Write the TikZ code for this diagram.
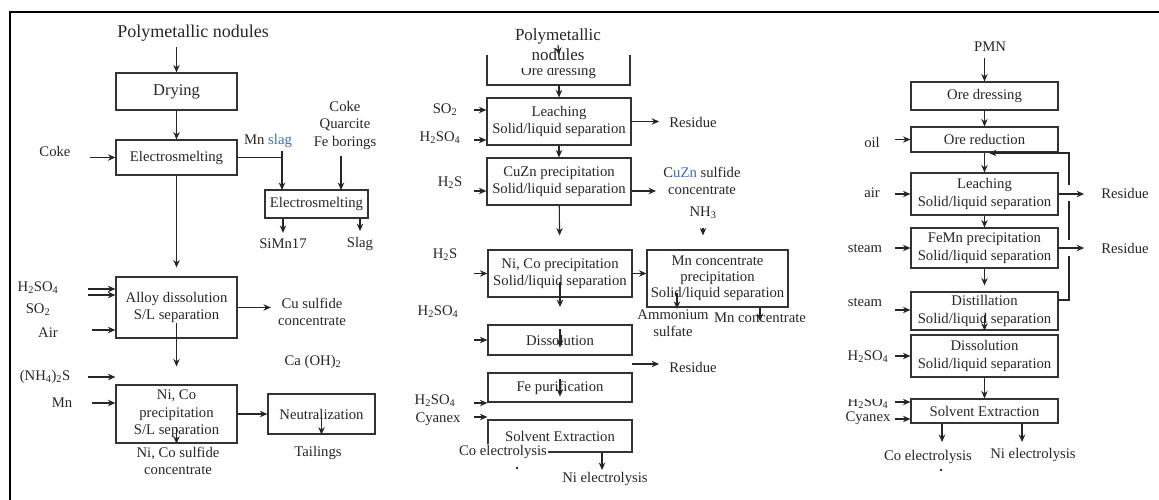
\documentclass[tikz,border=0pt]{standalone}
\usepackage{fontspec}
\setmainfont{Liberation Serif}
\usepackage{xcolor}
\usetikzlibrary{arrows.meta, positioning, calc}
\definecolor{slagblue}{RGB}{60,110,180}
\tikzset{
  lbl/.style={font=\fontsize{14.7}{17.5}\selectfont, inner sep=1pt, align=center, text=black!85},
  box/.style={draw=black!80, line width=1.2pt, font=\fontsize{14.7}{17.5}\selectfont, align=center, inner sep=1pt, text=black!85},
  flow/.style={->, line width=1.1pt, draw=black!85},
}
\begin{document}
\begin{tikzpicture}[x=1pt, y=-1pt, >={Stealth[length=7.5pt, width=6.5pt]}]
  \useasboundingbox (0,0) rectangle (1159,500);
  % Frame
  \draw[line width=1.6pt] (10,500) -- (10,12) -- (1159,12);

  % ---------- Left route: electrosmelting ----------
  \node[lbl, font=\fontsize{18}{20}\selectfont] (src1) at (193,33) {Polymetallic nodules};
  \node[box, minimum width=121pt, minimum height=37pt, font=\fontsize{16.5}{18}\selectfont] (dry) at (176.5,91.5) {Drying};
  \node[box, minimum width=121pt, minimum height=35pt] (elec1) at (176.5,157.5) {Electrosmelting};
  \node[lbl] (coke1) at (55,151) {Coke};
  \node[lbl] (mnslag) at (268,141) {Mn {\color{slagblue}slag}};
  \node[lbl] (feed) at (345,125) {Coke\\Quarcite\\Fe borings};
  \node[box, minimum width=103pt, minimum height=28pt] (elec2) at (316.5,204) {Electrosmelting};
  \node[lbl] (simn) at (283,244) {SiMn17};
  \node[lbl] (slag) at (360,244) {Slag};
  \node[box, minimum width=121pt, minimum height=61pt] (alloy) at (176.5,307.5) {Alloy dissolution\\S/L separation};
  \node[lbl] (h2so4a) at (38,288) {H\textsubscript{2}SO\textsubscript{4}};
  \node[lbl] (so2a) at (38,310) {SO\textsubscript{2}};
  \node[lbl] (aira) at (48,333) {Air};
  \node[lbl] (cuconc) at (312,312) {Cu sulfide\\concentrate};
  \node[lbl] (caoh) at (313,362) {Ca (OH)\textsubscript{2}};
  \node[lbl] (nh4s) at (45,377) {(NH\textsubscript{4})\textsubscript{2}S};
  \node[lbl] (mn1) at (62,403) {Mn};
  \node[box, minimum width=121pt, minimum height=58pt] (nico1) at (176.5,414) {Ni, Co\\precipitation\\S/L separation};
  \node[box, minimum width=107pt, minimum height=40pt] (neut) at (321.5,414) {Neutralization};
  \node[lbl] (tail) at (318,453) {Tailings};
  \node[lbl] (nicoconc) at (178,461) {Ni, Co sulfide\\concentrate};

  \coordinate (cokein) at (90,157.5);
  \coordinate (mnin) at (282,190);
  \coordinate (feedin) at (341,190);
  \coordinate (h2in) at (88,289);
  \coordinate (so2in) at (88,295);
  \coordinate (airin) at (92,330);
  \coordinate (nhin) at (88,377);
  \coordinate (mnin1) at (92,403);

  \draw[flow, shorten <=5pt] (src1.south -| dry.north) -- (dry.north);
  \draw[flow] (dry) -- (elec1);
  \draw[flow] (cokein) -- (elec1.west);
  \draw[flow] (elec1.east) -| (mnin);
  \draw[line width=1.1pt, black!85] ($(elec1.east -| mnin)+(0,-6)$) -- (elec1.east -| mnin);
  \draw[flow, shorten <=6pt] (feed.south -| feedin) -- (feedin);
  \draw[flow, shorten >=5pt] (elec2.south -| simn) -- (simn.north);
  \draw[flow, shorten >=5pt] (elec2.south -| slag) -- (slag.north);
  \draw[flow, shorten >=9pt] (elec1) -- (alloy);
  \draw[flow] (h2in) -- (h2in -| alloy.west);
  \draw[flow] (so2in) -- (so2in -| alloy.west);
  \draw[flow] (airin) -- (airin -| alloy.west);
  \draw[flow, shorten >=6pt] (alloy.east) -- (cuconc.west |- alloy.east);
  \draw[flow, shorten <=15pt, shorten >=18pt] (alloy.center) -- (nico1.north);
  \draw[flow] (nhin) -- (nhin -| nico1.west);
  \draw[flow] (mnin1) -- (mnin1 -| nico1.west);
  \draw[flow] (nico1.east) -- (neut.west);
  \draw[flow] (neut.center) -- (neut.south);
  \draw[flow, shorten <=13pt] (nico1.center) -- (nico1.south);

  % ---------- Middle route: leaching ----------
  \node[lbl, font=\fontsize{17}{20}\selectfont] (src2) at (558,45) {Polymetallic\\nodules};
  \begin{scope}
    \clip (480,69) rectangle (640,95);
    \node[lbl] (ore2) at (558.5,72) {Ore dressing};
  \end{scope}
  \draw[line width=1.2pt, black!80] (487,55) |- (630,85) -- (630,55);
  \coordinate (ore2top) at (559,55);
  \coordinate (ore2bot) at (559,85);
  \node[box, minimum width=144pt, minimum height=47pt] (leach2) at (559,121.5) {Leaching\\Solid/liquid separation};
  \node[lbl] (so2b) at (445,110) {SO\textsubscript{2}};
  \node[lbl] (h2so4b) at (440,138) {H\textsubscript{2}SO\textsubscript{4}};
  \node[lbl] (res2a) at (693,122) {Residue};
  \node[box, minimum width=144pt, minimum height=47pt] (cuzn2) at (559,181.5) {CuZn precipitation\\Solid/liquid separation};
  \node[lbl] (h2sb) at (450,183) {H\textsubscript{2}S};
  \node[lbl] (cuznconc) at (702,181) {C{\color{slagblue}uZn} sulfide\\concentrate};
  \node[lbl] (nh3) at (703,213) {NH\textsubscript{3}};
  \node[box, minimum width=144pt, minimum height=47pt] (nico2) at (560,273.5) {Ni, Co precipitation\\Solid/liquid separation};
  \node[box, minimum width=141pt, minimum height=57pt, font=\fontsize{14.7}{16}\selectfont] (mnc2) at (717.5,278.5) {Mn concentrate\\precipitation\\Solid/liquid separation};
  \node[lbl] (h2sc) at (445,255) {H\textsubscript{2}S};
  \node[lbl, fill=white, font=\fontsize{14.7}{17}\selectfont] (amm) at (673,323.5) {Ammonium\\sulfate};
  \node[lbl] (mnconc2) at (760,318) {Mn concentrate};
  \node[lbl] (h2so4c) at (438,312) {H\textsubscript{2}SO\textsubscript{4}};
  \node[box, minimum width=144pt, minimum height=30pt] (diss2) at (560,340) {Dissolution};
  \node[lbl] (res2b) at (693,367) {Residue};
  \node[box, minimum width=144pt, minimum height=29pt] (fe2) at (560,387.5) {Fe purification};
  \node[lbl] (h2so4d) at (435,401) {H\textsubscript{2}SO\textsubscript{4}};
  \node[lbl] (cyan2) at (438,419) {Cyanex};
  \node[box, minimum width=144pt, minimum height=32pt] (se2) at (560,436) {Solvent Extraction};
  \node[lbl, fill=white] (coel2) at (503,452) {Co electrolysis};
  \node[lbl] (niel2) at (605,479) {Ni electrolysis};
  \fill[black!85] (517,468) circle (1.3);

  \coordinate (so2bin) at (474,110);
  \coordinate (h2sobin) at (474,140);
  \coordinate (h2sbin) at (474,191);
  \coordinate (cuzout) at (656,191);
  \coordinate (h2scin) at (474,273.5);
  \coordinate (nico2out) at (560,307);
  \coordinate (ammtop) at (677,293);
  \coordinate (h2socin) at (474,340);
  \coordinate (res2bin) at (632,364);
  \coordinate (h2sodin) at (474,403);
  \coordinate (cyan2in) at (474,417);
  \coordinate (niel2top) at (602,470);

  \draw[flow] (src2.center) -- (ore2top);
  \draw[flow] (ore2bot) -- (leach2.north);
  \draw[flow] (so2bin) -- (so2bin -| leach2.west);
  \draw[flow] (h2sobin) -- (h2sobin -| leach2.west);
  \draw[flow, shorten >=9pt] (leach2.east) -- (res2a.west |- leach2.east);
  \draw[flow] (leach2) -- (cuzn2);
  \draw[flow] (h2sbin) -- (h2sbin -| cuzn2.west);
  \draw[flow] (cuzout -| cuzn2.east) -- (cuzout);
  \draw[flow, shorten >=14pt] (cuzn2) -- (nico2);
  \draw[flow, shorten <=8pt, shorten >=14pt] (nh3) -- (nh3 |- mnc2.north);
  \draw[flow] (nico2.east) -- (nico2.east -| mnc2.west);
  \draw[flow] (h2scin) -- (nico2.west);
  \draw[flow, shorten <=8pt] (nico2.center) -- (nico2out);
  \draw[flow] (ammtop) -- (ammtop |- amm.north);
  \draw[flow, shorten >=3pt] (mnc2.south -| mnconc2) -- (mnconc2.south);
  \draw[flow] (h2socin) -- (diss2.west);
  \draw[flow, shorten <=5pt, shorten >=8pt] (diss2.north) -- (diss2.south);
  \draw[flow, shorten >=9pt] (res2bin) -- (res2bin -| res2b.west);
  \draw[flow, shorten <=7pt, shorten >=6pt] (fe2.north) -- (fe2.south);
  \draw[flow] (h2sodin) -- (h2sodin -| fe2.west);
  \draw[flow] (cyan2in) -- (cyan2in -| fe2.west);
  \draw[flow] (niel2top |- se2.south) -- (niel2top);

  % ---------- Right route: reduction / ammonia ----------
  \node[lbl] (pmn) at (990,47) {PMN};
  \node[box, minimum width=147pt, minimum height=28pt] (od3) at (984.5,96) {Ore dressing};
  \node[box, minimum width=147pt, minimum height=25pt] (or3) at (984.5,139.5) {Ore reduction};
  \node[lbl] (oil3) at (872,142) {oil};
  \node[box, minimum width=147pt, minimum height=42pt, font=\fontsize{14.7}{18.5}\selectfont] (le3) at (984.5,194) {Leaching\\Solid/liquid separation};
  \node[lbl] (air3) at (872,193) {air};
  \node[lbl] (res3a) at (1125,193) {Residue};
  \node[box, minimum width=147pt, minimum height=40pt] (fm3) at (984.5,248) {FeMn precipitation\\Solid/liquid separation};
  \node[lbl] (steam3a) at (865,248) {steam};
  \node[lbl] (res3b) at (1125,248) {Residue};
  \node[box, minimum width=147pt, minimum height=38pt] (di3) at (984.5,311) {Distillation\\Solid/liquid separation};
  \node[lbl] (steam3b) at (865,302) {steam};
  \node[box, minimum width=147pt, minimum height=42pt] (ds3) at (984.5,356) {Dissolution\\Solid/liquid separation};
  \node[lbl] (h2so4e) at (868,357) {H\textsubscript{2}SO\textsubscript{4}};
  \node[box, minimum width=147pt, minimum height=24pt] (se3) at (984.5,411) {Solvent Extraction};
  \begin{scope}
    \clip (835,399) rectangle (905,425);
    \node[lbl] (h2so4f) at (868,403) {H\textsubscript{2}SO\textsubscript{4}};
  \end{scope}
  \node[lbl] (cyan3) at (868,418) {Cyanex};
  \node[lbl] (coel3) at (928,457) {Co electrolysis};
  \node[lbl] (niel3) at (1033,455) {Ni electrolysis};
  \fill[black!85] (941,470) circle (1.3);

  \coordinate (oil3in) at (895,139.5);
  \coordinate (air3in) at (895,194);
  \coordinate (steam3ain) at (895,248);
  \coordinate (steam3bin) at (895,310);
  \coordinate (h2soein) at (895,356);
  \coordinate (h2sofin) at (895,402);
  \coordinate (cyan3in) at (895,419);
  \coordinate (recA) at (1058,300);
  \coordinate (recB) at (1069,153);
  \coordinate (recC) at (989,153);
  \coordinate (coel3top) at (942,442);
  \coordinate (niel3top) at (1022,442);

  \draw[flow, shorten <=5pt] (pmn.south -| od3.north) -- (od3.north);
  \draw[flow] (od3) -- (or3);
  \draw[flow] (oil3in) -- (or3.west);
  \draw[flow] (or3) -- (le3);
  \draw[flow] (air3in) -- (le3.west);
  \draw[flow] (le3) -- (fm3);
  \draw[flow] (steam3ain) -- (fm3.west);
  \draw[flow, shorten >=6pt] (fm3) -- (di3);
  \draw[flow] (steam3bin) -- (steam3bin -| di3.west);
  % recycle line with gaps at the crossings
  \draw[flow] (recA) -| (recB) -- (recC);
  \fill[white] (1065,185) rectangle (1073,201);
  \fill[white] (1065,240) rectangle (1073,256);
  \draw[flow, shorten >=16pt] (le3.east) -- (res3a.west |- le3.east);
  \draw[flow, shorten >=16pt] (fm3.east) -- (res3b.west |- fm3.east);
  \draw[flow, shorten <=4pt] (di3.center) -- (di3.south);
  \draw[flow] (h2soein) -- (ds3.west);
  \draw[flow] (ds3) -- (se3);
  \draw[flow] (h2sofin) -- (h2sofin -| se3.west);
  \draw[flow] (cyan3in) -- (cyan3in -| se3.west);
  \draw[flow] (coel3top |- se3.south) -- (coel3top);
  \draw[flow] (niel3top |- se3.south) -- (niel3top);
\end{tikzpicture}
\end{document}
